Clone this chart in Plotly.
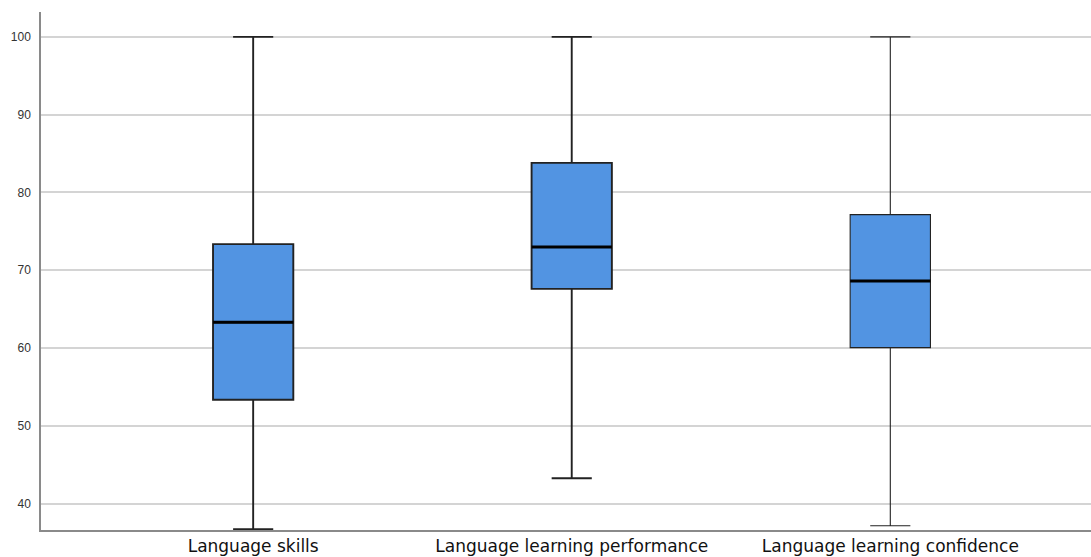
import plotly.graph_objects as go

# Summary statistics per scale
categories = ["Language skills", "Language learning performance", "Language learning confidence"]
lower_whisker = [36.7, 43.25, 37.15]
q1_values = [53.35, 67.6, 60.05]
median_values = [63.3, 73.0, 68.6]
q3_values = [73.35, 83.8, 77.15]
upper_whisker = [100, 100, 100]
y_ticks = [40, 50, 60, 70, 80, 90, 100]

BOX_FILL = "#5294e2"
BOX_WIDTH = 0.252
whisker_line_widths = [1.9, 1.9, 1.1]

fig = go.Figure()

for i, name in enumerate(categories):
    fig.add_trace(go.Box(
        x=[i],
        q1=[q1_values[i]],
        median=[median_values[i]],
        q3=[q3_values[i]],
        lowerfence=[lower_whisker[i]],
        upperfence=[upper_whisker[i]],
        name=name,
        width=BOX_WIDTH,
        whiskerwidth=0.5,
        fillcolor=BOX_FILL,
        line=dict(color="#222222", width=whisker_line_widths[i]),
        boxpoints=False,
        hoverinfo="skip",
        showlegend=False,
    ))

# Heavier median bars drawn over each box
for i, med in enumerate(median_values):
    fig.add_trace(go.Scatter(
        x=[i - BOX_WIDTH / 2, i + BOX_WIDTH / 2],
        y=[med, med],
        mode="lines",
        line=dict(color="#000000", width=3),
        hoverinfo="skip",
        showlegend=False,
    ))

fig.update_layout(
    width=1091,
    height=557,
    margin=dict(l=41, r=0, t=12, b=27),
    paper_bgcolor="white",
    plot_bgcolor="white",
    font=dict(family="Liberation Sans, Arial, sans-serif", color="#222222"),
    boxmode="overlay",
)

fig.update_xaxes(
    range=[-0.666, 2.63],
    tickmode="array",
    tickvals=list(range(len(categories))),
    ticktext=categories,
    tickfont=dict(family="DejaVu Sans, sans-serif", size=17, color="#111111"),
    ticks="",
    ticklabelstandoff=0,
    automargin=False,
    showgrid=False,
    zeroline=False,
    showline=True,
    linecolor="#8a8a8a",
    linewidth=1.5,
)

fig.update_yaxes(
    range=[36.6, 103.2],
    tickmode="array",
    tickvals=y_ticks,
    tickfont=dict(size=12, color="#333333"),
    ticks="",
    ticklabelstandoff=6,
    automargin=False,
    showgrid=True,
    gridcolor="#d4d4d4",
    gridwidth=1.5,
    zeroline=False,
    showline=True,
    linecolor="#8a8a8a",
    linewidth=1.5,
)

fig.write_html("out.html")
